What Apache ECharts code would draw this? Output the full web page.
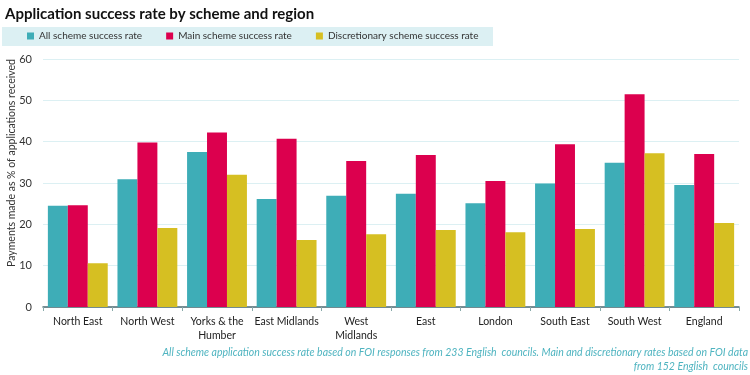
<!DOCTYPE html>
<html>
<head>
<meta charset="utf-8">
<script src="https://cdn.jsdelivr.net/npm/echarts@6/dist/echarts.min.js"></script>
<style>
  html, body { margin: 0; padding: 0; background: #fff; }
  #main { width: 750px; height: 375px; }
</style>
</head>
<body>
<div id="main"></div>
<script>
// regions along the x axis
var regions = ['North East', 'North West', 'Yorks & the\nHumber', 'East Midlands',
    'West\nMidlands', 'East', 'London', 'South East', 'South West', 'England'];

// success rates, %
var allScheme = [24.5, 30.9, 37.5, 26.1, 26.9, 27.4, 25.1, 29.9, 34.9, 29.5];
var mainScheme = [24.6, 39.8, 42.2, 40.7, 35.3, 36.8, 30.5, 39.4, 51.5, 37.0];
var discScheme = [10.6, 19.1, 32.0, 16.2, 17.6, 18.6, 18.1, 18.9, 37.2, 20.3];

var seriesNames = ['All scheme success rate', 'Main scheme success rate',
    'Discretionary scheme success rate'];
var colors = ['#3eadb7', '#dc004e', '#d6bf22'];

var font = 'Lato';

var chart = echarts.init(document.getElementById('main'));

function barSeries(name, data, color) {
    return {
        name: name,
        type: 'bar',
        data: data,
        barGap: 0,
        barCategoryGap: '14%',
        itemStyle: { color: color },
        emphasis: { disabled: true }
    };
}

var option = {
    animation: false,
    textStyle: { fontFamily: font },
    title: {
        text: 'Application success rate by scheme and region',
        left: 0,
        top: 2,
        textStyle: { fontSize: 15, fontWeight: 'bold', color: '#111', fontFamily: font }
    },
    graphic: [
        {
            // legend strip background
            type: 'rect',
            shape: { x: 2, y: 27, width: 491, height: 19 },
            style: { fill: '#dcf0f3' },
            z: -1
        },
        {
            // y axis title, sits a bit above the middle of the axis
            type: 'text',
            x: 12,
            y: 163,
            rotation: Math.PI / 2,
            style: {
                text: 'Payments made as % of applications received',
                fill: '#333',
                font: '10.5px Lato',
                align: 'center',
                verticalAlign: 'middle'
            }
        },
        {
            type: 'text',
            x: 748,
            y: 346,
            style: {
                text: 'All scheme application success rate based on FOI responses from 233 English  councils. Main and discretionary rates based on FOI data\nfrom 152 English  councils',
                fill: '#4fb4c0',
                font: 'italic 10.5px Lato',
                align: 'right',
                lineHeight: 14
            }
        }
    ],
    legend: {
        data: seriesNames,
        left: 22,
        top: 26,
        itemWidth: 7,
        itemHeight: 7,
        itemGap: 24,
        icon: 'rect',
        textStyle: { fontSize: 10, color: '#333', fontFamily: font }
    },
    grid: { left: 43, right: 11, top: 59, bottom: 68, outerBoundsMode: 'none' },
    xAxis: {
        type: 'category',
        data: regions,
        axisLine: { lineStyle: { color: '#4d6a72', width: 1.5 } },
        axisTick: { show: true, length: 4, lineStyle: { color: '#8aa' } },
        axisLabel: { fontSize: 10.5, color: '#222', interval: 0, lineHeight: 14, margin: 8 }
    },
    yAxis: {
        type: 'value',
        min: 0,
        max: 60,
        interval: 10,
        axisLabel: { fontSize: 11, color: '#333', margin: 11 },
        axisLine: { show: false },
        splitLine: { lineStyle: { color: '#dcf0f3' } }
    },
    series: [
        barSeries(seriesNames[0], allScheme, colors[0]),
        barSeries(seriesNames[1], mainScheme, colors[1]),
        barSeries(seriesNames[2], discScheme, colors[2])
    ]
};

chart.setOption(option);
</script>
</body>
</html>
